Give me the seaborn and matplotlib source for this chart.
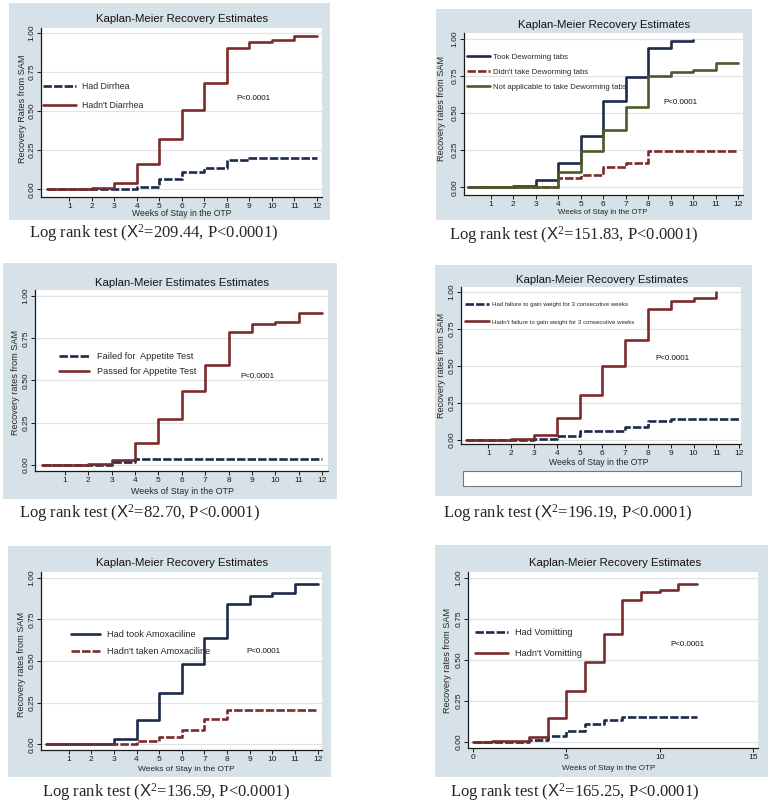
import matplotlib.pyplot as plt
from matplotlib.patches import Rectangle
import seaborn as sns

sns.set_style("white")
plt.rcParams['font.family'] = ['Liberation Sans', 'DejaVu Sans']
plt.rcParams['mathtext.fontset'] = 'custom'
plt.rcParams['mathtext.rm'] = 'Liberation Serif'
plt.rcParams['mathtext.sf'] = 'Liberation Sans'
plt.rcParams['mathtext.it'] = 'Liberation Serif:italic'

NAVY = "#1c2b4a"
MAROON = "#7b2b2b"
GREEN = "#4b5a26"
BG = "#d7e2e8"
W, H = 770, 805

# weeks of stay
weeks = list(range(13))
weeks_to10 = list(range(11))
weeks_to11 = list(range(12))

# diarrhea
diarrhea_yes = [0, 0, 0, 0, 0.017, 0.064, 0.11, 0.134, 0.185, 0.198, 0.198, 0.198, 0.198]
diarrhea_no = [0, 0.003, 0.006, 0.038, 0.16, 0.32, 0.506, 0.68, 0.90, 0.94, 0.953, 0.982, 0.982]

# deworming
deworm_took = [0, 0.004, 0.01, 0.05, 0.167, 0.347, 0.579, 0.745, 0.937, 0.984, 0.99]
deworm_not = [0, 0, 0, 0.005, 0.065, 0.083, 0.14, 0.167, 0.243, 0.243, 0.243, 0.243, 0.243]
deworm_na = [0, 0, 0, 0.005, 0.104, 0.243, 0.385, 0.54, 0.748, 0.78, 0.788, 0.838, 0.838]

# appetite test
appetite_failed = [0, 0, 0, 0.02, 0.034, 0.034, 0.034, 0.034, 0.034, 0.034, 0.034, 0.034, 0.034]
appetite_passed = [0, 0, 0.003, 0.03, 0.128, 0.272, 0.44, 0.592, 0.79, 0.832, 0.848, 0.90, 0.90]

# failure to gain weight
weight_failed = [0, 0, 0, 0.01, 0.027, 0.06, 0.06, 0.09, 0.128, 0.142, 0.142, 0.142, 0.142]
weight_ok = [0, 0.003, 0.007, 0.036, 0.146, 0.303, 0.503, 0.674, 0.883, 0.94, 0.962, 1.0]

# amoxicillin
amox_took = [0, 0, 0.005, 0.03, 0.146, 0.306, 0.482, 0.638, 0.842, 0.89, 0.91, 0.962, 0.962]
amox_not = [0, 0, 0, 0.005, 0.02, 0.042, 0.086, 0.152, 0.206, 0.206, 0.206, 0.206, 0.206]

# vomiting
vomit_yes = [0, 0, 0, 0.01, 0.038, 0.063, 0.109, 0.13, 0.15, 0.15, 0.15, 0.15, 0.15]
vomit_no = [0, 0.003, 0.005, 0.032, 0.144, 0.31, 0.488, 0.654, 0.866, 0.911, 0.923, 0.96, 0.96]

chi_values = ["209.44", "151.83", "82.70", "196.19", "136.59", "165.25"]
y_ticks = [0, 0.25, 0.5, 0.75, 1.0]
y_ticklabels = ["0.00", "0.25", "0.50", "0.75", "1.00"]

panels = [
    dict(bg=(9, 3, 330, 220), box=(41, 28, 322, 197), xlim=(-0.26, 12.23), ylim=(-0.049, 1.03),
         title="Kaplan-Meier Recovery Estimates", title_xy=(182, 19),
         ylabel="Recovery Rates from SAM", ylab_xy=(23, 109), xlab_xy=(182, 213), xlab_fs=6.2,
         series=[(weeks, diarrhea_yes, "Had Dirrhea", NAVY, True),
                 (weeks, diarrhea_no, "Hadn't Diarrhea", MAROON, False)],
         leg=(43, 96, 6.3, 3.8, 1.07, 0.6), p_xy=(253, 99), cap_xy=(154, 233), xticks=range(1, 13)),
    dict(bg=(436, 9, 752, 220), box=(464, 33, 743, 195), xlim=(-0.19, 12.22), ylim=(-0.052, 1.04),
         title="Kaplan-Meier Recovery Estimates", title_xy=(604, 25),
         ylabel="Recovery rates from SAM", ylab_xy=(442, 108), xlab_xy=(603, 212), xlab_fs=5.6,
         series=[(weeks_to10, deworm_took, "Took Deworming tabs", NAVY, False),
                 (weeks, deworm_not, "Didn't take Deworming tabs", MAROON, True),
                 (weeks, deworm_na, "Not applicable to take Deworming tabs", GREEN, False)],
         leg=(467, 72, 5.6, 3.0, 0.95, 0.4), p_xy=(680, 102), cap_xy=(574, 235), xticks=range(1, 13)),
    dict(bg=(3, 263, 337, 499), box=(35, 290, 328, 471), xlim=(-0.28, 12.25), ylim=(-0.036, 1.036),
         title="Kaplan-Meier Estimates Estimates", title_xy=(182, 283),
         ylabel="Recovery rates from SAM", ylab_xy=(16, 382), xlab_xy=(182, 491), xlab_fs=6.4,
         series=[(weeks, appetite_failed, "Failed for  Appetite Test", NAVY, True),
                 (weeks, appetite_passed, "Passed for Appetite Test", MAROON, False)],
         leg=(59, 364, 6.6, 3.3, 0.7, 0.8), p_xy=(257, 377), cap_xy=(140, 513), xticks=range(1, 13)),
    dict(bg=(435, 265, 752, 496), box=(461, 287, 741, 444), xlim=(-0.2, 12.08), ylim=(-0.027, 1.034),
         title="Kaplan-Meier Recovery Estimates", title_xy=(602, 280),
         ylabel="Recovery rates from SAM", ylab_xy=(442, 365), xlab_xy=(599, 462), xlab_fs=6.2,
         series=[(weeks, weight_failed, "Had failure to gain weight for 3 consecutive weeks", NAVY, True),
                 (weeks_to11, weight_ok, "Hadn't failure to gain weight for 3 consecutive weeks", MAROON, False)],
         leg=(465, 313, 4.4, 4.0, 2.05, 0.5), p_xy=(672, 358), cap_xy=(568, 513), xticks=range(1, 13)),
    dict(bg=(8, 546, 331, 777), box=(41, 572, 322, 750), xlim=(-0.22, 12.19), ylim=(-0.034, 1.035),
         title="Kaplan-Meier Recovery Estimates", title_xy=(182, 563),
         ylabel="Recovery rates from SAM", ylab_xy=(22, 664), xlab_xy=(186, 769), xlab_fs=6.0,
         series=[(weeks, amox_took, "Had took Amoxaciline", NAVY, False),
                 (weeks, amox_not, "Hadn't taken Amoxaciline", MAROON, True)],
         leg=(71, 643, 6.6, 3.2, 0.81, 0.7), p_xy=(263, 651), cap_xy=(166, 792), xticks=range(1, 13)),
    dict(bg=(435, 545, 768, 777), box=(468, 572, 758, 748), xlim=(-0.27, 15.27), ylim=(-0.038, 1.034),
         title="Kaplan-Meier Recovery Estimates", title_xy=(615, 563),
         ylabel="Recovery rates from SAM", ylab_xy=(448, 660), xlab_xy=(609, 768), xlab_fs=5.9,
         series=[(weeks, vomit_yes, "Had Vomitting", NAVY, True),
                 (weeks, vomit_no, "Hadn't Vomitting", MAROON, False)],
         leg=(475, 643, 6.6, 3.6, 1.32, 0.8), p_xy=(687, 645), cap_xy=(575, 792), xticks=[0, 5, 10, 15]),
]


def fx(x):
    return x / W


def fy(y):
    return 1 - y / H


fig = plt.figure(figsize=(W / 100, H / 100), dpi=100)
fig.patch.set_facecolor("white")

for i, p in enumerate(panels):
    l, t, r, b = p["bg"]
    fig.add_artist(Rectangle((fx(l), fy(b)), (r - l) / W, (b - t) / H, transform=fig.transFigure,
                             facecolor=BG, edgecolor="none", zorder=-2))
    l, t, r, b = p["box"]
    ax = fig.add_axes([fx(l), fy(b), (r - l) / W, (b - t) / H])
    ax.set_facecolor("white")

    for x, y, label, color, dashed in p["series"]:
        sns.lineplot(x=x, y=y, ax=ax, label=label, color=color, lw=1.9,
                     drawstyle="steps-post", estimator=None, sort=False,
                     linestyle=(0, (3.2, 0.8)) if dashed else "-")

    ax.set_xlim(*p["xlim"])
    ax.set_ylim(*p["ylim"])
    ax.set_xticks(list(p["xticks"]))
    ax.set_yticks(y_ticks, labels=y_ticklabels)
    plt.setp(ax.get_yticklabels(), rotation=90, va="center")
    ax.tick_params(labelsize=6, length=3, width=0.7, pad=1.2, direction="out",
                   bottom=True, left=True, colors="#1a1a1a")
    ax.yaxis.grid(True, color="#e0e4e7", lw=0.9)
    ax.set_axisbelow(True)
    for side in ["top", "right"]:
        ax.spines[side].set_visible(False)
    for side in ["left", "bottom"]:
        ax.spines[side].set_color("#1a1a1a")
        ax.spines[side].set_linewidth(0.9)

    ax.set_xlabel("Weeks of Stay in the OTP", fontsize=p["xlab_fs"])
    ax.xaxis.set_label_coords(fx(p["xlab_xy"][0]), fy(p["xlab_xy"][1]), transform=fig.transFigure)
    ax.xaxis.label.set_va("center")
    ax.set_ylabel(p["ylabel"], fontsize=6.6)
    ax.yaxis.set_label_coords(fx(p["ylab_xy"][0]), fy(p["ylab_xy"][1]), transform=fig.transFigure)
    ax.yaxis.label.set_va("center")

    lx, ly, fs, hl, ls, tp = p["leg"]
    ax.legend(loc="center left", bbox_to_anchor=(fx(lx), fy(ly)), bbox_transform=fig.transFigure,
              frameon=False, fontsize=fs, handlelength=hl, labelspacing=ls, handletextpad=tp,
              borderpad=0, borderaxespad=0)

    fig.text(fx(p["title_xy"][0]), fy(p["title_xy"][1]), p["title"], ha="center", va="center",
             fontsize=8.2, color="#111111")
    fig.text(fx(p["p_xy"][0]), fy(p["p_xy"][1]), "P<0.0001", ha="center", va="center",
             fontsize=5.8, color="#111111")
    fig.text(fx(p["cap_xy"][0]), fy(p["cap_xy"][1]),
             r"Log rank test ($\mathsf{X}^{2}$=" + chi_values[i] + ", P<0.0001)",
             ha="center", va="center", fontsize=12, family="Liberation Serif")

# empty box under the weight panel
fig.add_artist(Rectangle((fx(463), fy(486)), (741 - 463) / W, 15 / H, transform=fig.transFigure,
                         facecolor="white", edgecolor="#777777", lw=0.8, zorder=1))

fig.savefig("out.png", dpi=100)
